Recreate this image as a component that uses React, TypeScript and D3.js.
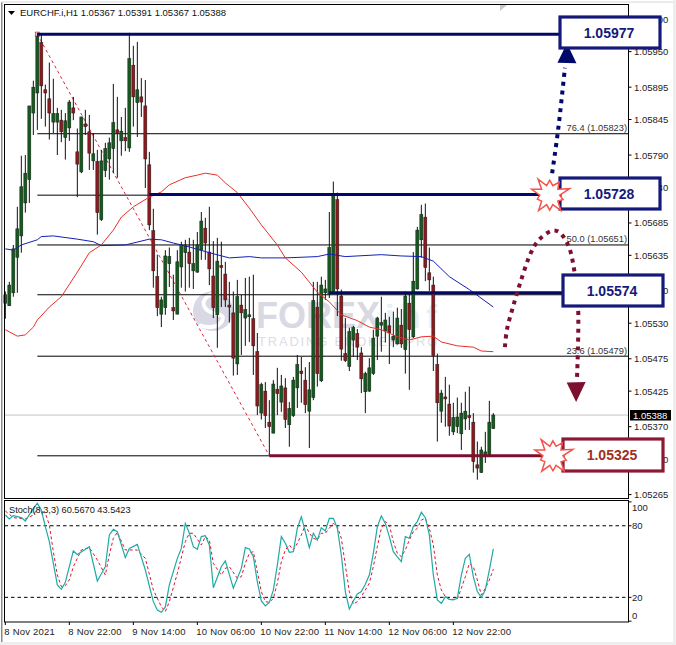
import React, { useEffect, useRef } from 'react';
import * as d3 from 'd3';

// prices are in points (1/100000)
const opens = [105561,105557,105577,105632,105665,105716,105752,105855,105886,105964,105891,105877,105841,105841,105844,105817,105832,105863,105795,105764,105838,105826,105781,105780,105690,105766,105784,105800,105829,105812,105817,105801,105929,105871,105880,105866,105775,105673,105602,105544,105554,105622,105554,105544,105617,105639,105640,105611,105609,105643,105677,105640,105603,105543,105619,105606,105558,105546,105467,105558,105538,105540,105537,105486,105391,105425,105377,105360,105428,105408,105430,105373,105387,105430,105456,105442,105394,105415,105555,105441,105577,105574,105579,105721,105572,105483,105463,105504,105514,105484,105424,105425,105452,105510,105527,105518,105526,105504,105498,105527,105489,105561,105509,105583,105659,105694,105608,105589,105466,105394,105416,105405,105362,105370,105359,105382,105387,105377,105311,105299,105325,105326,105367];
const highs = [105579,105594,105651,105710,105789,105790,105866,105905,105979,105976,105899,105933,105908,105863,105860,105855,105875,105880,105831,105849,105860,105852,105824,105798,105798,105809,105817,105900,105880,105849,105863,105979,105959,105965,105909,105906,105795,105707,105636,105571,105643,105647,105605,105643,105656,105659,105662,105659,105671,105702,105693,105710,105657,105662,105656,105625,105594,105579,105597,105574,105600,105602,105605,105515,105438,105439,105411,105442,105461,105450,105445,105408,105447,105481,105478,105462,105470,105594,105594,105602,105597,105702,105749,105732,105582,105538,105523,105526,105521,105493,105455,105476,105520,105540,105571,105546,105540,105548,105554,105552,105579,105577,105640,105679,105713,105715,105647,105602,105483,105427,105447,105435,105407,105415,105407,105424,105432,105391,105347,105339,105362,105410,105391];
const lows = [105537,105557,105571,105577,105639,105701,105716,105821,105829,105846,105834,105814,105824,105790,105810,105783,105812,105844,105725,105762,105821,105767,105767,105667,105688,105756,105752,105762,105755,105789,105796,105795,105834,105818,105849,105739,105674,105585,105541,105524,105543,105586,105535,105544,105585,105579,105585,105583,105608,105628,105628,105589,105538,105492,105555,105555,105531,105449,105450,105481,105495,105501,105450,105388,105381,105368,105326,105360,105388,105393,105368,105339,105385,105399,105407,105391,105337,105411,105432,105439,105566,105569,105577,105541,105472,105470,105456,105478,105473,105422,105391,105424,105450,105473,105486,105500,105467,105493,105497,105492,105452,105427,105507,105582,105631,105595,105580,105456,105347,105376,105370,105356,105357,105360,105334,105365,105365,105299,105288,105299,105314,105323,105367];
const closes = [105574,105589,105645,105676,105741,105762,105866,105895,105973,105897,105886,105855,105854,105854,105826,105843,105872,105855,105776,105849,105834,105793,105792,105701,105781,105800,105809,105840,105823,105827,105812,105939,105880,105891,105872,105784,105682,105611,105554,105566,105634,105633,105549,105625,105651,105651,105622,105622,105651,105688,105654,105614,105554,105626,105616,105566,105555,105476,105571,105546,105551,105543,105495,105402,105435,105387,105370,105436,105421,105433,105381,105398,105442,105466,105452,105404,105427,105565,105452,105589,105583,105647,105728,105583,105490,105472,105517,105523,105493,105444,105452,105461,105507,105538,105531,105535,105515,105510,105538,105498,105572,105520,105595,105674,105698,105616,105597,105480,105407,105422,105413,105371,105384,105385,105391,105394,105384,105316,105306,105334,105331,105377,105388];

const redMaBars = [0,3,5,7,8,11,14,18,21,24,27,29,32,36,39,41,45,48,50,53,55,58,61,64,68,70,74,78,81,84,88,91,94,98,101,104,107,109,113,117,119,122];
const redMaValues = [105520,105510,105512,105524,105535,105555,105571,105609,105639,105651,105674,105694,105710,105725,105733,105744,105755,105759,105762,105759,105747,105732,105708,105682,105651,105631,105609,105578,105563,105543,105534,105524,105520,105509,105504,105509,105510,105501,105495,105493,105487,105486];
const blueMaBars = [0,2,4,8,9,12,18,22,24,30,36,39,42,46,51,56,61,64,70,78,81,85,94,99,104,107,111,116,122];
const blueMaValues = [105645,105643,105651,105659,105664,105665,105660,105656,105650,105651,105660,105659,105654,105648,105639,105631,105633,105631,105631,105633,105637,105633,105636,105634,105633,105626,105602,105582,105555];

const stochKBars = [0,1,2,4,5,7,8,9,10,11,13,14,15,17,18,21,23,25,26,27,28,30,31,33,35,37,38,39,40,41,43,44,45,46,47,48,49,50,51,52,54,55,57,59,60,61,62,63,64,65,66,67,68,69,70,71,72,73,74,75,76,77,78,79,80,81,82,83,84,85,86,87,88,89,90,91,92,93,94,95,96,97,98,99,100,101,102,103,104,105,106,107,108,109,110,111,112,113,114,115,116,117,118,119,120,121,122];
const stochKValues = [89,85.7,88.5,86.8,84,94.6,98.8,93.2,79.3,66.7,30.4,26.7,32.6,58.9,56,62.5,33.7,45.7,72.3,77,75,53.3,61,64.4,42.9,16.4,9.4,7.5,12,30.4,52.7,61,82,73.7,62.5,60.3,70.9,71.7,63.9,28.1,45.7,50.5,27.6,44.3,61.7,60.5,54,33,17,12.8,15.8,26,47,70.9,65.3,57.7,58.3,77.9,87.6,75,61.7,73.7,68,78.4,75.6,86.2,86.2,77.9,55.5,24.8,10.2,17,22.8,24.8,30.9,38.7,56.9,79.3,88.2,82,70.9,58.3,54,49.9,70.9,69.5,79.3,83.5,91.3,86.8,72.3,38.7,17.8,15,20.6,18.3,17.8,19.2,38.7,52.7,56,37.3,24.8,20,26.2,42.9,60.57];
const stochDBars = [0,2,5,7,8,10,11,12,13,14,15,16,17,18,19,21,23,25,26,27,28,30,31,33,35,37,39,40,41,43,45,46,47,49,50,51,52,54,55,56,58,59,60,61,62,63,64,65,66,67,68,69,70,71,72,73,74,75,76,77,78,79,80,81,82,83,84,85,86,87,88,89,90,91,92,93,94,95,96,97,98,99,100,101,102,103,104,105,106,107,108,109,110,111,112,113,114,115,116,117,118,119,120,121,122];
const stochDValues = [92.4,86.8,85.7,89,94,90.4,80.7,58.3,38.7,29,29.8,34.6,45.7,52.7,59.7,61.7,51.3,38.7,55.5,69.5,74.5,59.7,59.7,59.7,52.7,26.2,12.2,8,16.4,40.1,66.7,73.7,73.7,63.9,70.9,68.1,48.5,38.7,44.3,45.7,36,37.3,48.5,56.9,58.3,41.5,24.8,16.4,15.8,19.2,31.8,49.9,59.7,63.9,59.7,65.3,72.3,80.7,73.7,69.5,68.1,73.7,73.7,77.9,82,79.3,69.5,47,24.8,14.2,16.4,20.6,26.2,31.8,45.7,62.5,77.9,83.5,80.7,66.7,56.9,54.1,59.7,68.1,75,77.9,84.8,86.2,77.9,63.9,38.7,26.2,20.6,18.3,18.3,18.6,27.6,37.3,48.5,45.7,34.6,22,27.6,34.6,43.54];

const priceTicks = [106000,105950,105895,105845,105790,105740,105685,105635,105580,105530,105475,105425,105370,105320,105265];
const stochTicks = [100,80,20,0];
const timeBars = [0,16,32,48,64,80,96,112];
const timeLabels = ['8 Nov 2021','8 Nov 22:00','9 Nov 14:00','10 Nov 06:00','10 Nov 22:00','11 Nov 14:00','12 Nov 06:00','12 Nov 22:00'];

const fibLevels = [105977,105823,105728,105651,105574,105479,105325];
const fibLabels = ['', '76.4 (1.05823)', '', '50.0 (1.05651)', '', '23.6 (1.05479)', ''];

// thick support/resistance levels: [start bar, price]
const levelBars = [8,36,81,66];
const levelPrices = [105977,105729,105577,105325];
const levelColors = ['#00086a','#00086a','#00086a','#7a1030'];

// dotted forecast arrows, in (bar, price)
const upArrowBars = [136.7,138.2,139.9];
const upArrowPrices = [105762,105829,105925];
const arcBars = [124.9,125.4,126.9,128.7,131.4,133.4,136.7,138.4,140.7,142.2,143.2,142.9];
const arcPrices = [105493,105520,105555,105592,105639,105659,105673,105671,105651,105613,105554,105442];

const W = 676;
const H = 645;
const PLOT_L = 4.5;
const PLOT_R = 628.5;
const FONT = '"Liberation Sans", Arial, sans-serif';

const App: React.FC = () => {
  const svgRef = useRef<SVGSVGElement>(null);

  useEffect(() => {
    if (!svgRef.current) return;
    const svg = d3.select(svgRef.current);
    svg.selectAll('*').remove();

    const x = d3.scaleLinear().domain([0, 122]).range([5.33, 493.33]);
    const y = d3.scaleLinear().domain([105950, 105265]).range([51.6, 494.6]);
    const ys = d3.scaleLinear().domain([0, 100]).range([621.2, 501.9]);

    // page frame
    svg.append('rect').attr('width', W).attr('height', H).attr('fill', '#ffffff');
    svg.append('rect').attr('x', 1).attr('y', 2).attr('width', 1.5).attr('height', 640).attr('fill', '#8a8a8a');
    svg.append('rect').attr('x', 1).attr('y', 1.5).attr('width', W).attr('height', 1).attr('fill', '#d8d8d8');
    svg.append('rect').attr('x', 0).attr('y', 642).attr('width', W).attr('height', 3).attr('fill', '#eeeeee');
    svg.append('rect').attr('x', 673).attr('y', 0).attr('width', 3).attr('height', H).attr('fill', '#eeeeee');

    // watermark
    const wm = svg.append('g').attr('font-family', FONT);
    wm.append('circle').attr('cx', 213).attr('cy', 311).attr('r', 20).attr('fill', '#d8d9e4');
    wm.append('path').attr('d', 'M224 293C205 292 199 303 207 310C214 316 226 312 222 321C219 327 209 329 199 325')
      .attr('fill', 'none').attr('stroke', '#ffffff').attr('stroke-width', 4);
    wm.append('text').attr('x', 256).attr('y', 328).attr('font-size', 36).attr('font-weight', 700).attr('fill', '#d8d9e3').text('FOREX');
    wm.append('text').attr('x', 385).attr('y', 328).attr('font-size', 33).attr('font-weight', 700).attr('fill', '#e6eef6').attr('letter-spacing', 6).text('inf');
    wm.append('text').attr('x', 258).attr('y', 346).attr('font-size', 13).attr('fill', '#dcdde6').attr('letter-spacing', 1.8).text('TRADING BROKER PRO');

    // current price line
    svg.append('line').attr('x1', PLOT_L).attr('x2', PLOT_R).attr('y1', y(105388)).attr('y2', y(105388)).attr('stroke', '#c4c4c4');

    // fibonacci levels
    fibLevels.forEach((level, i) => {
      svg.append('line').attr('x1', x(8)).attr('x2', PLOT_R).attr('y1', y(level)).attr('y2', y(level)).attr('stroke', '#000').attr('stroke-width', 1);
      if (fibLabels[i]) {
        svg.append('text').attr('x', 627).attr('y', y(level) - 2.5).attr('text-anchor', 'end').attr('font-family', FONT).attr('font-size', 9.3).attr('fill', '#333').text(fibLabels[i]);
      }
    });

    // fib trend line
    svg.append('line').attr('x1', x(8)).attr('y1', y(105977)).attr('x2', x(66)).attr('y2', y(105325))
      .attr('stroke', '#d8283c').attr('stroke-width', 1).attr('stroke-dasharray', '3 3');
    svg.append('rect').attr('x', x(8) - 2).attr('y', y(105977) - 2).attr('width', 4).attr('height', 4)
      .attr('fill', 'none').attr('stroke', '#d8283c').attr('stroke-width', 0.8);

    // candles
    const up = '#145a1e';
    const down = '#8e1a1e';
    opens.forEach((open, i) => {
      const cx = x(i);
      svg.append('line').attr('x1', cx).attr('x2', cx).attr('y1', y(highs[i])).attr('y2', y(lows[i])).attr('stroke', '#111').attr('stroke-width', 1);
      const top = Math.min(y(open), y(closes[i]));
      const bottom = Math.max(y(open), y(closes[i]));
      svg.append('rect').attr('x', cx - 1.5).attr('y', top).attr('width', 3).attr('height', Math.max(bottom - top, 1.5))
        .attr('fill', closes[i] >= open ? up : down).attr('stroke', '#1a1a1a').attr('stroke-width', 0.5);
    });

    // moving averages
    const line = d3.line<[number, number]>().x(d => x(d[0])).y(d => y(d[1]));
    svg.append('path').attr('d', line(d3.zip(redMaBars, redMaValues) as [number, number][]))
      .attr('fill', 'none').attr('stroke', '#e8302a').attr('stroke-width', 1);
    svg.append('path').attr('d', line(d3.zip(blueMaBars, blueMaValues) as [number, number][]))
      .attr('fill', 'none').attr('stroke', '#1420b4').attr('stroke-width', 1);

    // thick levels
    levelPrices.forEach((p, i) => {
      svg.append('line').attr('x1', x(levelBars[i])).attr('x2', 563).attr('y1', y(p)).attr('y2', y(p))
        .attr('stroke', levelColors[i]).attr('stroke-width', 3);
    });

    // panel frames
    svg.append('rect').attr('x', PLOT_L).attr('y', 4.5).attr('width', PLOT_R - PLOT_L).attr('height', 494).attr('fill', 'none').attr('stroke', '#000');
    svg.append('rect').attr('x', PLOT_L).attr('y', 500.5).attr('width', PLOT_R - PLOT_L).attr('height', 121.5).attr('fill', 'none').attr('stroke', '#000');

    // price axis
    priceTicks.forEach(t => {
      svg.append('line').attr('x1', PLOT_R).attr('x2', PLOT_R + 3).attr('y1', y(t)).attr('y2', y(t)).attr('stroke', '#000');
      svg.append('text').attr('x', 634).attr('y', y(t) + 3.5).attr('font-family', FONT).attr('font-size', 9.5).attr('fill', '#222').text((t / 1e5).toFixed(5));
    });
    svg.append('rect').attr('x', 630).attr('y', 410).attr('width', 41).attr('height', 10.5).attr('fill', '#000');
    svg.append('text').attr('x', 633).attr('y', 419).attr('font-family', FONT).attr('font-size', 9.5).attr('fill', '#fff').text('1.05388');

    // header
    svg.append('path').attr('d', d3.line()([[8, 11], [15, 11], [11.5, 15]]) + 'Z').attr('fill', '#000');
    svg.append('text').attr('x', 20).attr('y', 16).attr('font-family', FONT).attr('font-size', 9.5).attr('fill', '#111').text('EURCHF.i,H1  1.05367 1.05391 1.05367 1.05388');
    svg.append('path').attr('d', d3.line()([[500, 5], [507, 5], [500, 11]]) + 'Z').attr('fill', '#c8c8c8');

    // stochastic panel
    [80, 20].forEach(v => {
      svg.append('line').attr('x1', PLOT_L).attr('x2', PLOT_R).attr('y1', ys(v)).attr('y2', ys(v))
        .attr('stroke', '#000').attr('stroke-dasharray', '3.5 3').attr('stroke-width', 1);
    });
    const lineS = d3.line<[number, number]>().x(d => x(d[0])).y(d => ys(d[1]));
    svg.append('path').attr('d', lineS(d3.zip(stochDBars, stochDValues) as [number, number][]))
      .attr('fill', 'none').attr('stroke', '#e0142c').attr('stroke-width', 1).attr('stroke-dasharray', '3 2.5');
    svg.append('path').attr('d', lineS(d3.zip(stochKBars, stochKValues) as [number, number][]))
      .attr('fill', 'none').attr('stroke', '#20aaa4').attr('stroke-width', 1.2);
    svg.append('text').attr('x', 9).attr('y', 513).attr('font-family', FONT).attr('font-size', 9.2).attr('fill', '#111').text('Stoch(8,3,3) 60.5670 43.5423');

    stochTicks.forEach(t => {
      svg.append('line').attr('x1', PLOT_R).attr('x2', PLOT_R + 3).attr('y1', ys(t)).attr('y2', ys(t)).attr('stroke', '#000');
      const ly = t === 100 ? 511 : t === 0 ? 619 : ys(t) + 3.5;
      svg.append('text').attr('x', 632).attr('y', ly).attr('font-family', FONT).attr('font-size', 9.5).attr('fill', '#222').text(t);
    });

    // time axis
    timeBars.forEach((b, i) => {
      svg.append('line').attr('x1', x(b)).attr('x2', x(b)).attr('y1', 622).attr('y2', 625).attr('stroke', '#000');
      svg.append('text').attr('x', x(b) - 1).attr('y', 635).attr('font-family', FONT).attr('font-size', 9.5).attr('letter-spacing', 0.2).attr('fill', '#222').text(timeLabels[i]);
    });

    // forecast arrows
    const arrow = d3.line<[number, number]>().x(d => x(d[0])).y(d => y(d[1])).curve(d3.curveCatmullRom.alpha(0.5));
    const head = (bar: number, price: number, dir: number, color: string) => {
      const tx = x(bar);
      const ty = y(price);
      svg.append('path').attr('d', d3.line()([[tx, ty], [tx - 9.5, ty + dir * 19.5], [tx + 9.5, ty + dir * 20]]) + 'Z').attr('fill', color);
    };
    svg.append('path').attr('d', arrow(d3.zip(upArrowBars, upArrowPrices) as [number, number][]))
      .attr('fill', 'none').attr('stroke', '#00086a').attr('stroke-width', 4).attr('stroke-dasharray', '4 4.8');
    head(140.4, 105963, 1, '#00086a');
    svg.append('path').attr('d', arrow(d3.zip(arcBars, arcPrices) as [number, number][]))
      .attr('fill', 'none').attr('stroke', '#7d1030').attr('stroke-width', 4).attr('stroke-dasharray', '4 4.8');
    head(142.7, 105408, -1, '#7d1030');

    // price boxes
    const boxes = [
      { label: '1.05977', x: 560, y: 17, w: 100, h: 31, color: '#14197a', text: '#14197a' },
      { label: '1.05728', x: 560, y: 178, w: 100, h: 31, color: '#14197a', text: '#14197a' },
      { label: '1.05574', x: 563, y: 275, w: 100, h: 31, color: '#14197a', text: '#14197a' },
      { label: '1.05325', x: 563, y: 439, w: 100, h: 32, color: '#8c1a34', text: '#a0301c' },
    ];
    boxes.forEach(b => {
      svg.append('rect').attr('x', b.x).attr('y', b.y).attr('width', b.w).attr('height', b.h)
        .attr('fill', '#fff').attr('stroke', b.color).attr('stroke-width', 3.2);
      svg.append('text').attr('x', b.x + b.w / 2 - 1).attr('y', b.y + b.h / 2 + 5).attr('text-anchor', 'middle')
        .attr('font-family', FONT).attr('font-size', 14).attr('font-weight', 700).attr('fill', b.text).text(b.label);
    });

    // starbursts
    const star = (cx: number, cy: number) => {
      const radii = [20, 10, 15, 10, 16, 10, 21, 10, 14, 10, 19, 10, 15, 10, 19, 10, 13, 10, 19, 10];
      const pts = radii.map((r, i) => {
        const a = (i / radii.length) * Math.PI * 2 - 2.2;
        return [cx + r * Math.cos(a), cy + r * Math.sin(a)] as [number, number];
      });
      svg.append('path').attr('d', d3.line()(pts) + 'Z').attr('fill', '#fff').attr('stroke', '#f4534c').attr('stroke-width', 1.5);
    };
    star(x(136.1), y(105728));
    star(x(136.9), y(105325));
  }, []);

  return <svg ref={svgRef} width={W} height={H} style={{ position: 'absolute', left: 0, top: 0 }} />;
};

export default App;
